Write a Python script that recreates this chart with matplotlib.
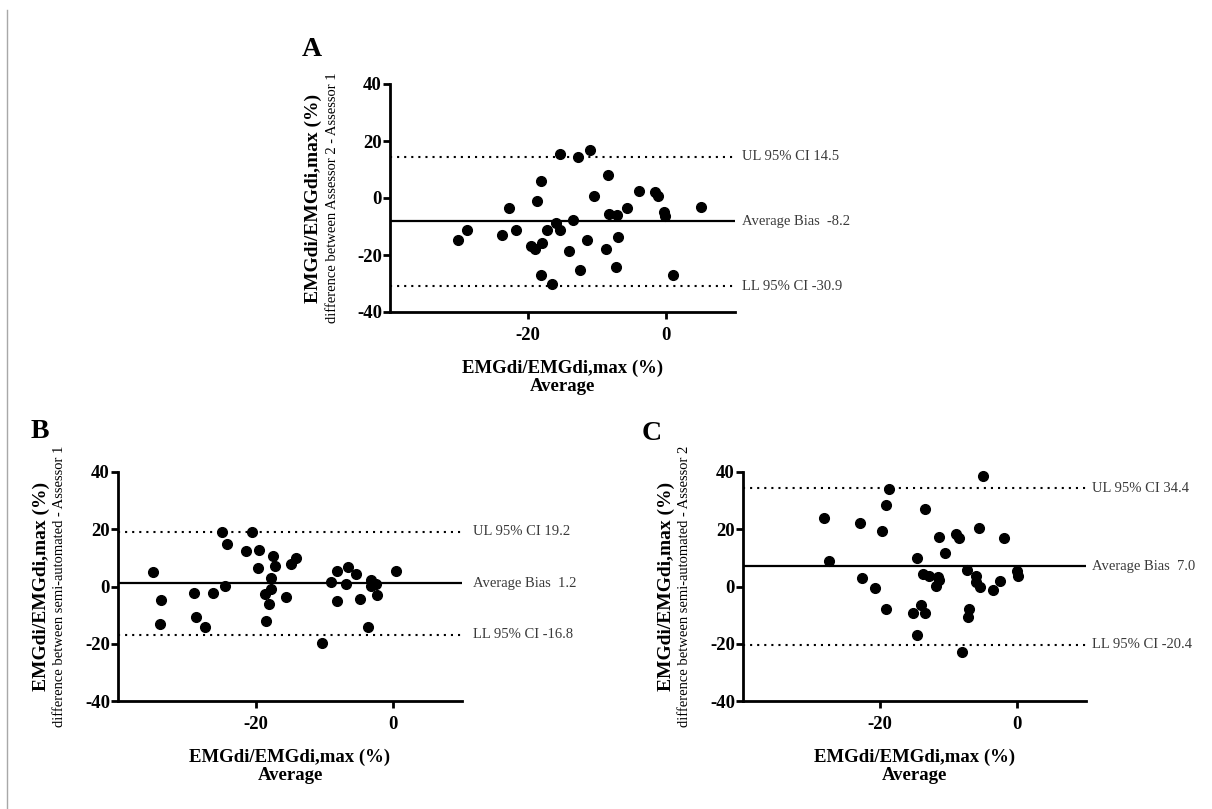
import matplotlib
matplotlib.use("Agg")
import matplotlib.pyplot as plt
import matplotlib.transforms as mtransforms
from matplotlib.lines import Line2D

plt.rcParams['font.family'] = ['Liberation Serif', 'DejaVu Serif']
plt.rcParams['axes.unicode_minus'] = False

# ---- Panel A: Assessor 2 - Assessor 1 ----
a_avg = [-30.2, -28.8, -23.7, -22.7, -21.8, -19.5, -19.0, -18.7, -18.1, -18.0,
         -18.1, -17.3, -16.5, -16.0, -15.4, -15.3, -14.1, -13.5, -12.8, -12.5,
         -11.5, -11.0, -10.5, -8.7, -8.4, -8.2, -7.2, -7.1, -7.0, -5.7,
         -3.9, -1.6, -1.2, -0.3, -0.1, 1.0, 5.0]
a_diff = [-14.7, -11.3, -12.9, -3.4, -11.2, -16.7, -17.9, -1.2, 6.0, -15.9,
          -27.0, -11.3, -30.2, -8.7, 15.4, -11.2, -18.6, -7.7, 14.3, -25.3,
          -14.7, 16.8, 0.7, -17.8, 8.0, -5.6, -24.1, -6.0, -13.8, -3.6,
          2.6, 2.0, 0.6, -5.0, -6.3, -27.1, -3.2]
a_bias, a_ul, a_ll = -8.2, 14.5, -30.9

# ---- Panel B: semi-automated - Assessor 1 ----
b_avg = [-34.9, -33.8, -33.9, -28.9, -28.6, -27.4, -26.2, -24.9, -24.2, -24.5,
         -21.4, -20.5, -19.5, -19.6, -18.6, -18.5, -18.0, -17.8, -17.7, -17.5,
         -17.2, -15.6, -14.8, -14.2, -10.4, -9.0, -8.2, -8.1, -6.9, -6.6,
         -5.4, -4.8, -3.6, -3.2, -3.2, -2.5, -2.3, 0.4]
b_diff = [4.9, -4.8, -13.2, -2.1, -10.6, -14.1, -2.2, 18.9, 14.7, 0.1,
          12.5, 19.0, 12.8, 6.5, -2.6, -12.1, -6.1, -1.0, 3.0, 10.6,
          7.0, -3.6, 7.9, 10.1, -19.8, 1.7, 5.4, -5.2, 1.0, 6.8,
          4.2, -4.4, -14.1, 2.1, 0.3, 0.9, -2.8, 5.5]
b_bias, b_ul, b_ll = 1.2, 19.2, -16.8

# ---- Panel C: semi-automated - Assessor 2 ----
c_avg = [-28.2, -27.5, -22.9, -22.6, -20.8, -19.8, -19.2, -18.7, -19.1, -15.2,
         -14.7, -14.7, -14.0, -13.8, -13.5, -13.5, -12.9, -11.9, -11.6, -11.4,
         -11.5, -10.6, -9.0, -8.5, -8.1, -7.3, -7.1, -7.2, -6.0, -6.1,
         -5.6, -5.4, -5.0, -3.6, -2.5, -2.0, 0.0, 0.1]
c_diff = [23.8, 9.0, 22.3, 3.0, -0.5, 19.5, 28.6, 34.1, -8.0, -9.4,
          9.9, -17.0, -6.6, 4.2, -9.4, 26.9, 3.8, 0.1, 3.4, 2.4,
          17.3, 11.7, 18.2, 16.8, -22.9, 5.9, -7.7, -10.6, 3.7, 1.4,
          20.5, 0.0, 38.5, -1.2, 1.9, 16.8, 5.5, 3.6]
c_bias, c_ul, c_ll = 7.0, 34.4, -20.4

x_ticks = [-20, 0]
y_ticks = [-40, -20, 0, 20, 40]
x_label = "EMGdi/EMGdi,max (%)\nAverage"
y_label = "EMGdi/EMGdi,max (%)"
y_sub = {
    "A": "difference between Assessor 2 - Assessor 1",
    "B": "difference between semi-automated - Assessor 1",
    "C": "difference between semi-automated - Assessor 2",
}

W, H = 1212, 809
fig = plt.figure(figsize=(W / 100, H / 100), dpi=100)


def panel(left, top, w, h, avg, diff, bias, ul, ll, sub, text_gap):
    ax = fig.add_axes([left / W, 1 - (top + h) / H, w / W, h / H])
    ax.set_xlim(-40, 10)
    ax.set_ylim(-40, 40)
    for s in ("top", "right"):
        ax.spines[s].set_visible(False)
    for s in ("left", "bottom"):
        ax.spines[s].set_linewidth(2.0)
    ax.set_xticks(x_ticks)
    ax.set_yticks(y_ticks)
    ax.tick_params(direction="out", length=4.8, width=2.0, labelsize=13.5)
    ax.tick_params(axis="x", pad=6)
    ax.tick_params(axis="y", pad=1)
    for lab in ax.get_xticklabels() + ax.get_yticklabels():
        lab.set_fontweight("bold")

    ax.axhline(bias, color="black", lw=1.6, zorder=2)
    ax.axhline(ul, color="black", lw=1.5, ls=(0, (1, 2.4)), zorder=2)
    ax.axhline(ll, color="black", lw=1.5, ls=(0, (1, 2.4)), zorder=2)
    ax.plot(avg, diff, "o", ms=7, color="black", zorder=3, clip_on=False)

    tr = mtransforms.blended_transform_factory(ax.transAxes, ax.transData)
    xt = 1 + text_gap / w
    kw = dict(transform=tr, va="center", ha="left", fontsize=10.5,
              color="#3a3a3a", clip_on=False)
    ax.text(xt, ul, f"UL 95% CI {ul:.1f}", **kw)
    ax.text(xt, bias, f"Average Bias  {bias:.1f}", **kw)
    ax.text(xt, ll, f"LL 95% CI {ll:.1f}", **kw)

    ax.set_xlabel(x_label, fontsize=13.5, fontweight="bold", labelpad=11,
                  linespacing=1.1)
    ax.text(-77 / w, 0.5, y_label, transform=ax.transAxes, rotation=90,
            ha="center", va="center", fontsize=14, fontweight="bold")
    ax.text(-58 / w, 0.5, sub, transform=ax.transAxes, rotation=90,
            ha="center", va="center", fontsize=10.5)
    return ax


panel(390, 84, 345, 228, a_avg, a_diff, a_bias, a_ul, a_ll, y_sub["A"], 7)
panel(118, 472, 344, 229, b_avg, b_diff, b_bias, b_ul, b_ll, y_sub["B"], 11)
panel(743, 472, 343, 229, c_avg, c_diff, c_bias, c_ul, c_ll, y_sub["C"], 6)

for letter, px, py in (("A", 312, 50), ("B", 40, 432), ("C", 652, 433)):
    fig.text(px / W, 1 - py / H, letter, ha="center", va="center",
             fontsize=20, fontweight="bold")

# thin page border on the left edge
fig.add_artist(Line2D([7 / W, 7 / W], [0, 1 - 10 / H], transform=fig.transFigure,
                      color="#a8a8a8", lw=1.0))

fig.savefig("out.png", dpi=100, facecolor="white")
